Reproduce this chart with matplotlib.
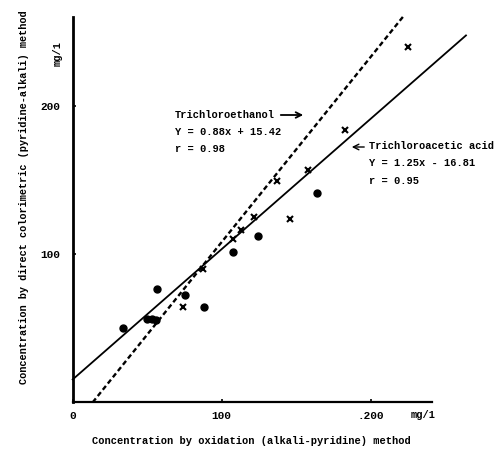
import matplotlib
matplotlib.use("Agg")
import matplotlib.pyplot as plt
import numpy as np

plt.rcParams['font.family'] = ['Liberation Mono', 'DejaVu Sans Mono']
plt.rcParams['font.weight'] = 'bold'

# filled circles
circ_x = [33.6, 50, 53, 56, 56.8, 75.4, 88.1, 107.4, 124.6, 163.8]
circ_y = [50.3, 56, 56, 55.5, 76.2, 72.4, 64.5, 101.2, 112.2, 141.4]

# crosses
cross_x = [74.2, 87.7, 107.8, 112.8, 121.9, 137.3, 145.8, 158.1, 182.8, 224.8]
cross_y = [64.5, 89.7, 110.0, 116.3, 124.8, 149.3, 123.5, 156.7, 183.7, 239.9]

# regression lines (slope, intercept) as printed on the chart
solid_fit = (0.88, 15.42)
dashed_fit = (1.25, -16.81)

xticks = [0, 100, 200]
xticklabels = ['0', '100', '.200']
yticks = [100, 200]
yticklabels = ['100', '200']

fig = plt.figure(figsize=(5.01, 4.51), dpi=100)
ax = fig.add_axes([0.1451, 0.108, 0.7166, 0.8537])

# solid line
xs = np.array([0, 264])
ax.plot(xs, solid_fit[0] * xs + solid_fit[1], color='black', lw=1.3, clip_on=False)

# dashed line
x0 = -dashed_fit[1] / dashed_fit[0]
xd = np.array([x0, 222])
ax.plot(xd, dashed_fit[0] * xd + dashed_fit[1], color='black', lw=1.7,
        dashes=(2.1, 1.3), clip_on=False)

ax.plot(circ_x, circ_y, 'o', color='black', markersize=5, clip_on=False)
ax.plot(cross_x, cross_y, 'x', color='black', markersize=5, mew=1.5, clip_on=False)

ax.set_xlim(0, 241)
ax.set_ylim(0, 260)

for s in ['top', 'right']:
    ax.spines[s].set_visible(False)
ax.spines['left'].set_linewidth(2.0)
ax.spines['bottom'].set_linewidth(1.6)

ax.set_xticks(xticks)
ax.set_xticklabels(xticklabels, fontsize=8, fontweight='bold')
ax.set_yticks(yticks)
ax.set_yticklabels(yticklabels, fontsize=8, fontweight='bold')
ax.tick_params(axis='both', direction='in', length=2.5, width=1.2)
ax.tick_params(axis='x', pad=6)
ax.tick_params(axis='y', pad=9)

# units
fig.text(423 / 501, 1 - 415 / 451, 'mg/1', fontsize=7.5, ha='center', va='center')
fig.text(58 / 501, 1 - 54 / 451, 'mg/1', fontsize=7.5, ha='center', va='center',
         rotation=90)

# axis titles
fig.text(251 / 501, 1 - 441 / 451,
         'Concentration by oxidation (alkali-pyridine) method',
         fontsize=7.5, ha='center', va='center')
fig.text(24 / 501, 1 - 197 / 451,
         'Concentration by direct colorimetric (pyridine-alkali) method',
         fontsize=7.4, ha='center', va='center', rotation=90)

# annotations
fig.text(175 / 501, 1 - 115 / 451, 'Trichloroethanol', fontsize=7.5, va='center')
fig.text(175 / 501, 1 - 132 / 451, 'Y = 0.88x + 15.42', fontsize=7.5, va='center')
fig.text(175 / 501, 1 - 149 / 451, 'r = 0.98', fontsize=7.5, va='center')
ax.annotate('', xy=(306, 451 - 115), xytext=(278, 451 - 115),
            xycoords='figure pixels', textcoords='figure pixels',
            arrowprops=dict(arrowstyle='->', lw=1.3, color='black'))

fig.text(369 / 501, 1 - 146 / 451, 'Trichloroacetic acid', fontsize=7.5, va='center')
fig.text(369 / 501, 1 - 163 / 451, 'Y = 1.25x - 16.81', fontsize=7.5, va='center')
fig.text(369 / 501, 1 - 181 / 451, 'r = 0.95', fontsize=7.5, va='center')
ax.annotate('', xy=(349, 451 - 147), xytext=(367, 451 - 147),
            xycoords='figure pixels', textcoords='figure pixels',
            arrowprops=dict(arrowstyle='->', lw=1.0, color='black'))

fig.savefig('out.png', dpi=100)
